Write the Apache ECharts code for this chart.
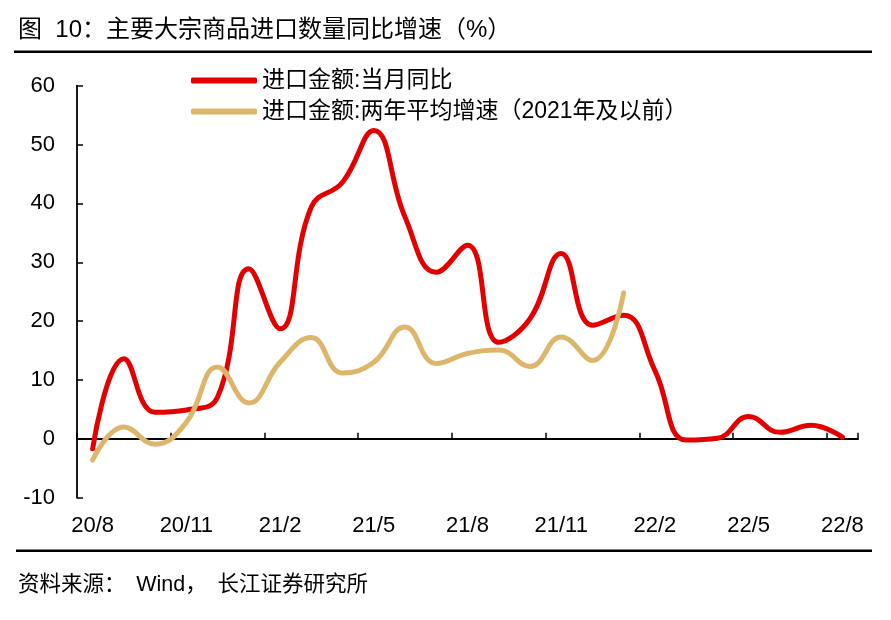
<!DOCTYPE html>
<html>
<head>
<meta charset="utf-8">
<script src="https://cdn.jsdelivr.net/npm/echarts@6/dist/echarts.min.js"></script>
<style>
html,body{margin:0;padding:0;background:#fff;}
#c{width:891px;height:620px;}
</style>
</head>
<body>
<div id="c"></div>
<script>
var categories = ['20/8','20/9','20/10','20/11','20/12','21/1','21/2','21/3','21/4','21/5','21/6','21/7','21/8','21/9','21/10','21/11','21/12','22/1','22/2','22/3','22/4','22/5','22/6','22/7','22/8'];
var monthlyYoY = [-1.7,13.6,4.5,4.9,7.1,28.9,18.7,39.4,43.6,52.4,37.7,28.3,32.9,16.4,20.4,31.5,19.3,21.0,11.6,-0.2,0.1,3.8,1.1,2.3,0.3];
var twoYearAvg = [-3.6,2.0,-0.9,2.8,12.2,6.1,13.0,17.2,11.2,13.0,19.0,12.8,14.5,15.1,12.3,17.3,13.3,24.8];
var seriesNames = ['进口金额:当月同比','进口金额:两年平均增速（2021年及以前）'];
var yTicks = {min:-10, max:60, interval:10};
var titleText = '图  10：主要大宗商品进口数量同比增速（%）';
var sourceText = '资料来源：\u2002Wind，\u2002长江证券研究所';

var FONT = '"Liberation Sans", Arial, "Noto Sans CJK SC", sans-serif';
var chart = echarts.init(document.getElementById('c'), null, {renderer:'canvas'});
chart.setOption({
  animation:false,
  backgroundColor:'#fff',
  textStyle:{fontFamily:FONT},
  grid:{left:77, right:33, top:85.7, bottom:122.3, containLabel:false},
  legend:{
    orient:'vertical', left:186, top:64, itemGap:8, itemWidth:66, itemHeight:6,
    icon:'roundRect',
    textStyle:{fontSize:23, color:'#000', fontFamily:FONT, padding:[0,0,0,0]},
    data:seriesNames
  },
  xAxis:{
    type:'category', data:categories, boundaryGap:true,
    axisLine:{onZero:true, lineStyle:{color:'#000', width:1.8}},
    axisTick:{show:true, inside:true, length:6, interval:2, lineStyle:{color:'#000', width:1.5}},
    axisLabel:{interval:2, margin:17, fontSize:22, color:'#000', fontFamily:FONT},
    splitLine:{show:false}
  },
  yAxis:{
    type:'value', min:yTicks.min, max:yTicks.max, interval:yTicks.interval,
    axisLine:{show:true, lineStyle:{color:'#000', width:1.8}},
    axisTick:{show:true, inside:true, length:6, lineStyle:{color:'#000', width:1.5}},
    axisLabel:{margin:22, fontSize:22, color:'#000', fontFamily:FONT},
    splitLine:{show:false}
  },
  series:[
    {name:seriesNames[0], type:'line', data:monthlyYoY, smooth:0.45, symbol:'none',
     itemStyle:{color:'#E30000'}, lineStyle:{color:'#E30000', width:5, cap:'round', join:'round'}, z:2},
    {name:seriesNames[1], type:'line', data:twoYearAvg, smooth:0.45, symbol:'none',
     itemStyle:{color:'#DDB66B'}, lineStyle:{color:'#DDB66B', width:5, cap:'round', join:'round'}, z:3}
  ],
  graphic:[
    {type:'text', left:18, top:18, style:{text:titleText, fontSize:24, fill:'#000', fontFamily:FONT}},
    {type:'line', shape:{x1:14, y1:51.7, x2:872, y2:51.7}, style:{stroke:'#000', lineWidth:2.5}},
    {type:'line', shape:{x1:16, y1:550.7, x2:872, y2:550.7}, style:{stroke:'#000', lineWidth:2.5}},
    {type:'text', left:18, top:574, style:{text:sourceText, fontSize:21.5, fill:'#000', fontFamily:FONT}}
  ]
});
</script>
</body>
</html>
